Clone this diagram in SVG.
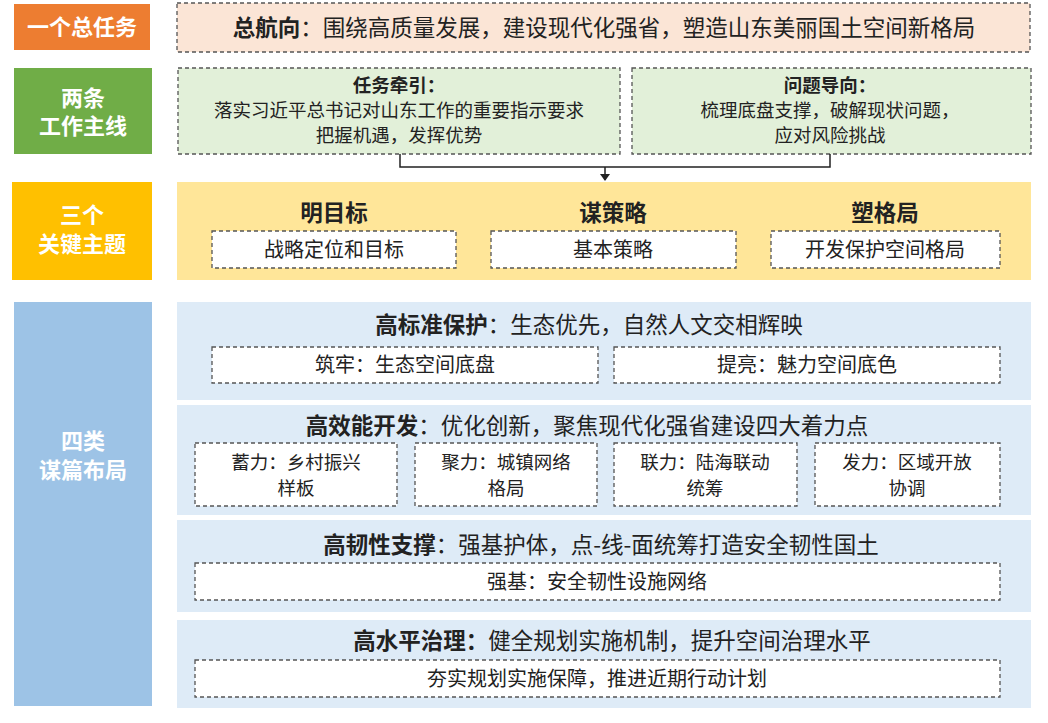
<svg xmlns="http://www.w3.org/2000/svg" width="1048" height="723" viewBox="0 0 1048 723">
<style>
text{font-family:"Noto Sans CJK SC","Noto Sans",sans-serif;fill:#222;text-anchor:middle}
.lab{fill:#fff;font-weight:bold;font-size:22px}
.d{stroke:#555;stroke-width:1.3;stroke-dasharray:4 3}
.w{fill:#fff}
.t{font-size:22.5px}
.s{font-size:20px}
.g{font-size:18.5px}
.b{font-weight:bold}
</style>
<defs><marker id="ad" markerWidth="10" markerHeight="10" refX="5" refY="8" markerUnits="userSpaceOnUse"><path d="M0,2 L10,2 L5,9 z" fill="#222"/></marker></defs>
<rect width="1048" height="723" fill="#fff"/>
<g id="l1"><rect x="14" y="4" width="136" height="46" fill="#ED7D31"/><text class="lab" x="82" y="35">一个总任务</text></g>
<g id="l2"><rect x="14" y="68" width="138" height="86" fill="#70AD47"/><text class="lab" x="83" y="106">两条</text><text class="lab" x="83" y="134">工作主线</text></g>
<g id="l3"><rect x="12" y="182" width="140" height="98" fill="#FFC000"/><text class="lab" x="82" y="223">三个</text><text class="lab" x="82" y="252">关键主题</text></g>
<g id="l4"><rect x="14" y="302" width="138" height="404" fill="#9DC3E6"/><text class="lab" x="83" y="449">四类</text><text class="lab" x="83" y="478">谋篇布局</text></g>
<g id="top"><rect x="177" y="3" width="853" height="49" fill="#FBE5D6" class="d"/><text class="t" x="604" y="36"><tspan class="b">总航向</tspan>：围绕高质量发展，建设现代化强省，塑造山东美丽国土空间新格局</text></g>
<g id="g1"><rect x="178" y="68" width="442" height="86" fill="#E2F0D9" class="d"/><text class="g b" x="399" y="92">任务牵引：</text><text class="g" x="399" y="117">落实习近平总书记对山东工作的重要指示要求</text><text class="g" x="399" y="142">把握机遇，发挥优势</text></g>
<g id="g2"><rect x="632" y="68" width="399" height="86" fill="#E2F0D9" class="d"/><text class="g b" x="830" y="92">问题导向：</text><text class="g" x="830" y="117">梳理底盘支撑，破解现状问题，</text><text class="g" x="830" y="142">应对风险挑战</text></g>
<g id="connectors"><path d="M400,154 V167 H830 V154 M605,167 V180" fill="none" stroke="#222" stroke-width="1.5" marker-end="url(#ad)"/></g>
<g id="y"><rect x="177" y="182" width="854" height="98" fill="#FFE699"/>
<text class="t b" x="334" y="221">明目标</text><text class="t b" x="613" y="221">谋策略</text><text class="t b" x="885" y="221">塑格局</text>
<rect x="212" y="231" width="244" height="37" class="w d"/><text class="s" x="334" y="257">战略定位和目标</text>
<rect x="491" y="231" width="245" height="37" class="w d"/><text class="s" x="613" y="257">基本策略</text>
<rect x="771" y="231" width="229" height="37" class="w d"/><text class="s" x="885" y="257">开发保护空间格局</text></g>
<g id="p1"><rect x="177" y="302" width="854" height="98" fill="#DEEBF7"/><text class="t" x="589" y="333"><tspan class="b">高标准保护</tspan>：生态优先，自然人文交相辉映</text>
<rect x="212" y="347" width="386" height="36" class="w d"/><text class="s" x="405" y="372">筑牢：生态空间底盘</text>
<rect x="614" y="347" width="386" height="36" class="w d"/><text class="s" x="807" y="372">提亮：魅力空间底色</text></g>
<g id="p2"><rect x="177" y="405" width="854" height="110" fill="#DEEBF7"/><text class="t" x="587" y="434"><tspan class="b">高效能开发</tspan>：优化创新，聚焦现代化强省建设四大着力点</text>
<rect x="195" y="443" width="202" height="63" class="w d"/><text class="g" x="296" y="469">蓄力：乡村振兴</text><text class="g" x="296" y="495">样板</text>
<rect x="415" y="443" width="182" height="63" class="w d"/><text class="g" x="506" y="469">聚力：城镇网络</text><text class="g" x="506" y="495">格局</text>
<rect x="614" y="443" width="183" height="63" class="w d"/><text class="g" x="705" y="469">联力：陆海联动</text><text class="g" x="705" y="495">统筹</text>
<rect x="815" y="443" width="185" height="63" class="w d"/><text class="g" x="907" y="469">发力：区域开放</text><text class="g" x="907" y="495">协调</text></g>
<g id="p3"><rect x="177" y="520" width="854" height="92" fill="#DEEBF7"/><text class="t" x="601" y="553"><tspan class="b">高韧性支撑</tspan>：强基护体，点-线-面统筹打造安全韧性国土</text>
<rect x="195" y="563" width="805" height="37" class="w d"/><text class="s" x="597" y="589">强基：安全韧性设施网络</text></g>
<g id="p4"><rect x="177" y="620" width="854" height="88" fill="#DEEBF7"/><text class="t" x="612" y="649"><tspan class="b">高水平治理：</tspan>健全规划实施机制，提升空间治理水平</text>
<rect x="195" y="660" width="805" height="37" class="w d"/><text class="s" x="597" y="686">夯实规划实施保障，推进近期行动计划</text></g>
</svg>
